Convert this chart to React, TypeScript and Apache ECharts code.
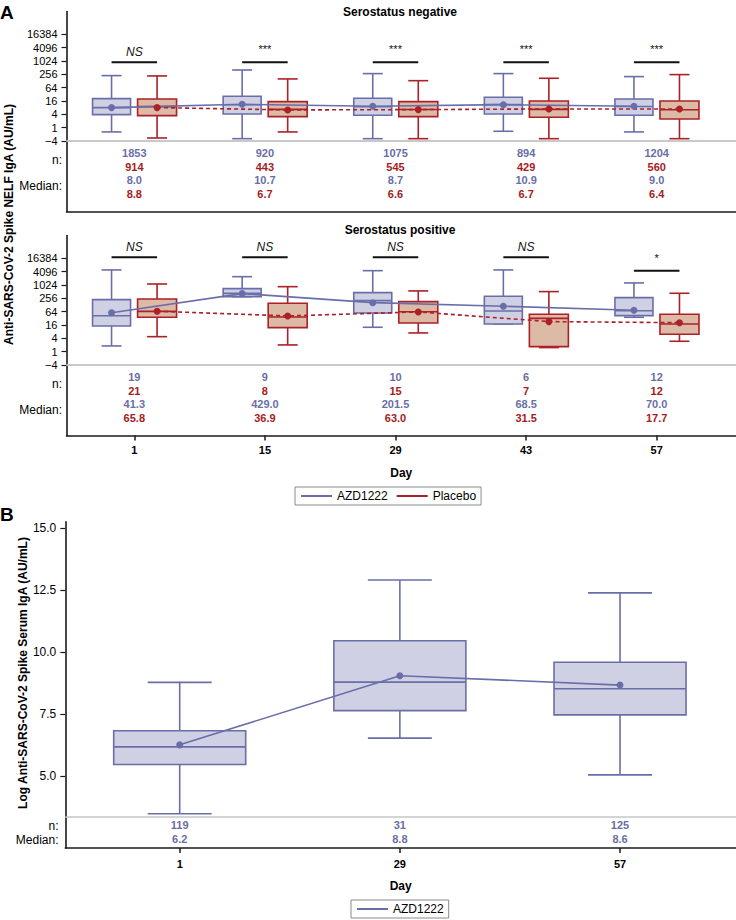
import React, { useEffect, useRef } from 'react';
import * as echarts from 'echarts';

const FONT = '"Liberation Sans", Arial, sans-serif';

const days = [1, 15, 29, 43, 57];
const daysB = [1, 29, 57];

// y axis of panel A in log2 units
const yTickVals = [-2, 0, 2, 4, 6, 8, 10, 12, 14];
const yTickLabels = ['\u22124', '1', '4', '16', '64', '256', '1024', '4096', '16384'];
const yTickValsB = [5, 7.5, 10, 12.5, 15];

// Serostatus negative (log2 AU/mL)
const negAzdLow = [-0.65, -1.66, -1.66, -0.55, -0.65];
const negAzdQ1 = [1.94, 2.05, 1.85, 2.05, 1.85];
const negAzdMed = [3.0, 3.42, 3.12, 3.45, 3.17];
const negAzdQ3 = [4.34, 4.7, 4.4, 4.55, 4.3];
const negAzdUp = [7.8, 8.64, 8.1, 8.1, 7.65];
const negAzdMean = [3.0, 3.5, 3.2, 3.44, 3.2];

const negPboLow = [-1.56, -0.65, -1.66, -1.66, -1.66];
const negPboQ1 = [1.79, 1.64, 1.64, 1.55, 1.3];
const negPboMed = [3.14, 2.74, 2.72, 2.74, 2.68];
const negPboQ3 = [4.3, 3.89, 3.89, 4.0, 4.0];
const negPboUp = [7.75, 7.3, 7.04, 7.4, 7.95];
const negPboMean = [3.0, 2.65, 2.7, 2.8, 2.8];

// Serostatus positive (log2 AU/mL)
const posAzdLow = [0.85, 8.24, 3.65, 4.15, 5.15];
const posAzdQ1 = [3.85, 8.24, 5.8, 4.15, 5.4];
const posAzdMed = [5.37, 8.74, 7.65, 6.1, 6.13];
const posAzdQ3 = [7.79, 9.44, 8.84, 8.3, 8.1];
const posAzdUp = [12.25, 11.24, 12.14, 12.25, 10.3];
const posAzdMean = [5.84, 8.7, 7.34, 6.8, 6.2];

const posPboLow = [2.24, 1.0, 2.8, 0.6, 1.55];
const posPboQ1 = [5.15, 3.59, 4.3, 0.74, 2.6];
const posPboMed = [6.04, 5.2, 5.98, 4.98, 4.15];
const posPboQ3 = [7.9, 7.25, 7.5, 5.6, 5.6];
const posPboUp = [10.14, 9.74, 9.1, 9.0, 8.75];
const posPboMean = [6.05, 5.35, 5.95, 4.5, 4.34];

// Panel B (log AU/mL)
const bLow = [3.49, 6.54, 5.06];
const bQ1 = [5.48, 7.65, 7.48];
const bMed = [6.19, 8.8, 8.53];
const bQ3 = [6.84, 10.47, 9.6];
const bUp = [8.79, 12.92, 12.4];
const bMean = [6.27, 9.06, 8.68];

// tables
const negNAzd = ['1853', '920', '1075', '894', '1204'];
const negNPbo = ['914', '443', '545', '429', '560'];
const negMedAzd = ['8.0', '10.7', '8.7', '10.9', '9.0'];
const negMedPbo = ['8.8', '6.7', '6.6', '6.7', '6.4'];
const posNAzd = ['19', '9', '10', '6', '12'];
const posNPbo = ['21', '8', '15', '7', '12'];
const posMedAzd = ['41.3', '429.0', '201.5', '68.5', '70.0'];
const posMedPbo = ['65.8', '36.9', '63.0', '31.5', '17.7'];
const bN = ['119', '31', '125'];
const bMedTxt = ['6.2', '8.8', '8.6'];

// significance
const negSig = ['NS', '***', '***', '***', '***'];
const negSigY = [9.8, 9.8, 9.8, 9.8, 9.8];
const posSig = ['NS', 'NS', 'NS', 'NS', '*'];
const posSigY = [14.15, 14.15, 14.15, 14.15, 12.14];

const AZD_STROKE = '#6a6ea8';
const AZD_FILL = '#cfd0e4';
const PBO_STROKE = '#ac2028';
const PBO_FILL = '#dcbaa6';
const AZD_TEXT = '#6a6ea6';
const PBO_TEXT = '#a51b22';
const AXIS = '#1a1a1a';
const OFF = 2.44;

function txtStyle(text: string, fill: string, size: number, weight = 'normal', align = 'center', style = 'normal') {
  return {
    text,
    fill,
    font: `${style} ${weight} ${size}px ${FONT}`,
    fontSize: size,
    fontWeight: weight,
    fontStyle: style,
    fontFamily: FONT,
    textAlign: align,
    align,
    textVerticalAlign: 'middle',
    verticalAlign: 'middle',
  };
}

function boxSeries(gi: number, xs: number[], low: number[], q1: number[], med: number[], q3: number[], up: number[], offset: number, stroke: string, fill: string, halfW: number, capHalf: number) {
  return {
    type: 'custom',
    xAxisIndex: gi,
    yAxisIndex: gi,
    silent: true,
    z: 2,
    data: xs.map((d, i) => [d, low[i], q1[i], med[i], q3[i], up[i]]),
    encode: { x: 0, y: [1, 5] },
    renderItem: (params: any, api: any) => {
      const x = api.value(0) + offset;
      const pLow = api.coord([x, api.value(1)]);
      const pQ1 = api.coord([x, api.value(2)]);
      const pMed = api.coord([x, api.value(3)]);
      const pQ3 = api.coord([x, api.value(4)]);
      const pUp = api.coord([x, api.value(5)]);
      const cx = pMed[0];
      const ls = { stroke, lineWidth: 1.6, fill: null };
      return {
        type: 'group',
        children: [
          { type: 'line', shape: { x1: cx, y1: pQ3[1], x2: cx, y2: pUp[1] }, style: ls },
          { type: 'line', shape: { x1: cx, y1: pQ1[1], x2: cx, y2: pLow[1] }, style: ls },
          { type: 'line', shape: { x1: cx - capHalf, y1: pUp[1], x2: cx + capHalf, y2: pUp[1] }, style: ls },
          { type: 'line', shape: { x1: cx - capHalf, y1: pLow[1], x2: cx + capHalf, y2: pLow[1] }, style: ls },
          { type: 'rect', shape: { x: cx - halfW, y: pQ3[1], width: 2 * halfW, height: pQ1[1] - pQ3[1] }, style: { fill, stroke, lineWidth: 1.6 } },
          { type: 'line', shape: { x1: cx - halfW, y1: pMed[1], x2: cx + halfW, y2: pMed[1] }, style: ls },
        ],
      };
    },
  };
}

function meanSeries(gi: number, name: string, xs: number[], means: number[], offset: number, color: string, dashed: boolean, grayY: number) {
  return {
    type: 'line',
    name,
    xAxisIndex: gi,
    yAxisIndex: gi,
    z: 4,
    silent: true,
    symbol: 'circle',
    symbolSize: 7,
    data: xs.map((d, i) => [d + offset, means[i]]),
    lineStyle: { color, width: 1.6, type: dashed ? [4, 3] : 'solid' },
    itemStyle: { color },
    emphasis: { disabled: true },
    markLine: {
      silent: true,
      symbol: ['none', 'none'],
      label: { show: false },
      lineStyle: { color: '#c6c6c6', width: 1.5, type: 'solid' },
      data: [{ yAxis: grayY }],
      z: 1,
    },
  };
}

function tableSeries(gi: number, xs: number[], baseV: number, rows: { texts: string[]; color: string; dy: number }[]) {
  return {
    type: 'custom',
    xAxisIndex: gi,
    yAxisIndex: gi,
    silent: true,
    z: 5,
    data: xs.map((d) => [d, baseV]),
    renderItem: (params: any, api: any) => {
      const i = params.dataIndex;
      const p = api.coord([api.value(0), baseV]);
      return {
        type: 'group',
        children: rows.map((r) => ({
          type: 'text',
          x: p[0],
          y: p[1] + r.dy,
          style: txtStyle(r.texts[i], r.color, 11, 'bold'),
        })),
      };
    },
  };
}

function sigSeries(gi: number, labels: string[], ys: number[]) {
  return {
    type: 'custom',
    xAxisIndex: gi,
    yAxisIndex: gi,
    silent: true,
    z: 5,
    data: days.map((d, i) => [d, ys[i]]),
    renderItem: (params: any, api: any) => {
      const i = params.dataIndex;
      const pL = api.coord([api.value(0) - OFF, api.value(1)]);
      const pR = api.coord([api.value(0) + OFF, api.value(1)]);
      const lab = labels[i];
      const isNS = lab === 'NS';
      return {
        type: 'group',
        children: [
          { type: 'line', shape: { x1: pL[0], y1: pL[1], x2: pR[0], y2: pR[1] }, style: { stroke: '#111', lineWidth: 2 } },
          {
            type: 'text',
            x: (pL[0] + pR[0]) / 2,
            y: pL[1] - (isNS ? 10.5 : 13),
            style: txtStyle(lab, '#111', isNS ? 12 : 11, 'normal', 'center', isNS ? 'italic' : 'normal'),
          },
        ],
      };
    },
  };
}

const rowDy = [12.5, 25.8, 39.2, 52.6];

function xAxisA(gi: number, show: boolean) {
  return {
    type: 'value',
    gridIndex: gi,
    min: -6.27,
    max: 65.5,
    axisLine: { show: true, onZero: false, lineStyle: { color: AXIS, width: 1.6 } },
    axisTick: { show, length: 5, customValues: days, lineStyle: { color: AXIS, width: 1.5 } },
    axisLabel: { show, customValues: days, margin: 9, fontFamily: FONT, fontSize: 11, fontWeight: 'bold', color: '#000' },
    splitLine: { show: false },
    name: show ? 'Day' : '',
    nameLocation: 'middle',
    nameGap: 31,
    nameTextStyle: { fontFamily: FONT, fontSize: 12, fontWeight: 'bold', color: '#000' },
  };
}

function yAxisA(gi: number) {
  return {
    type: 'value',
    gridIndex: gi,
    min: -12.6,
    max: 17.4,
    axisLine: { show: true, onZero: false, lineStyle: { color: AXIS, width: 1.6 } },
    axisTick: { show: true, length: 5, customValues: yTickVals, lineStyle: { color: AXIS, width: 1.2 } },
    axisLabel: {
      customValues: yTickVals,
      margin: 9,
      fontFamily: FONT,
      fontSize: 11,
      color: '#000',
      formatter: (v: number) => {
        const k = yTickVals.indexOf(v);
        return k >= 0 ? yTickLabels[k] : '';
      },
    },
    splitLine: { show: false },
  };
}

function buildOption() {
  return {
    animation: false,
    backgroundColor: '#fff',
    grid: [
      { left: 66.5, right: 0, top: 11.6, height: 200 },
      { left: 66.5, right: 0, top: 235.6, height: 200 },
      { left: 65.3, right: 0, top: 521.7, height: 326.3 },
    ],
    xAxis: [
      xAxisA(0, false),
      xAxisA(1, true),
      {
        type: 'value',
        gridIndex: 2,
        min: -13.55,
        max: 71.75,
        axisLine: { show: true, onZero: false, lineStyle: { color: AXIS, width: 1.6 } },
        axisTick: { show: true, length: 5, customValues: daysB, lineStyle: { color: AXIS, width: 1.5 } },
        axisLabel: { customValues: daysB, margin: 10, fontFamily: FONT, fontSize: 11, fontWeight: 'bold', color: '#000' },
        splitLine: { show: false },
        name: 'Day',
        nameLocation: 'middle',
        nameGap: 32,
        nameTextStyle: { fontFamily: FONT, fontSize: 12, fontWeight: 'bold', color: '#000' },
      },
    ],
    yAxis: [
      yAxisA(0),
      yAxisA(1),
      {
        type: 'value',
        gridIndex: 2,
        min: 2.11,
        max: 15.27,
        axisLine: { show: true, onZero: false, lineStyle: { color: AXIS, width: 1.6 } },
        axisTick: { show: true, length: 5, customValues: yTickValsB, lineStyle: { color: AXIS, width: 1.2 } },
        axisLabel: {
          customValues: yTickValsB,
          margin: 9,
          fontFamily: FONT,
          fontSize: 12,
          color: '#000',
          formatter: (v: number) => v.toFixed(1),
        },
        splitLine: { show: false },
      },
    ],
    legend: [
      {
        data: ['AZD1222', 'Placebo'],
        left: 295,
        top: 487,
        orient: 'horizontal',
        icon: 'rect',
        itemWidth: 31,
        itemHeight: 2,
        itemGap: 9,
        selectedMode: false,
        borderColor: '#8a8a8a',
        borderWidth: 1,
        borderRadius: 0,
        padding: [3, 5, 3, 6],
        textStyle: { fontFamily: FONT, fontSize: 12, color: '#000' },
      },
      {
        data: ['AZD1222'],
        left: 351,
        top: 900,
        icon: 'rect',
        itemWidth: 31,
        itemHeight: 2,
        selectedMode: false,
        borderColor: '#8a8a8a',
        borderWidth: 1,
        borderRadius: 0,
        padding: [3, 5, 3, 6],
        textStyle: { fontFamily: FONT, fontSize: 12, color: '#000' },
      },
    ],
    series: [
      boxSeries(0, days, negAzdLow, negAzdQ1, negAzdMed, negAzdQ3, negAzdUp, -OFF, AZD_STROKE, AZD_FILL, 19, 10),
      boxSeries(0, days, negPboLow, negPboQ1, negPboMed, negPboQ3, negPboUp, OFF, PBO_STROKE, PBO_FILL, 19.5, 10),
      boxSeries(1, days, posAzdLow, posAzdQ1, posAzdMed, posAzdQ3, posAzdUp, -OFF, AZD_STROKE, AZD_FILL, 19, 10),
      boxSeries(1, days, posPboLow, posPboQ1, posPboMed, posPboQ3, posPboUp, OFF, PBO_STROKE, PBO_FILL, 19.5, 10),
      boxSeries(2, daysB, bLow, bQ1, bMed, bQ3, bUp, 0, AZD_STROKE, AZD_FILL, 66, 32),
      meanSeries(0, 'Placebo', days, negPboMean, OFF, PBO_STROKE, true, -2),
      meanSeries(0, 'AZD1222', days, negAzdMean, -OFF, AZD_STROKE, false, -2),
      meanSeries(1, 'Placebo', days, posPboMean, OFF, PBO_STROKE, true, -2),
      meanSeries(1, 'AZD1222', days, posAzdMean, -OFF, AZD_STROKE, false, -2),
      meanSeries(2, 'AZD1222', daysB, bMean, 0, AZD_STROKE, false, 3.37),
      tableSeries(0, days, -2, [
        { texts: negNAzd, color: AZD_TEXT, dy: rowDy[0] },
        { texts: negNPbo, color: PBO_TEXT, dy: rowDy[1] },
        { texts: negMedAzd, color: AZD_TEXT, dy: rowDy[2] },
        { texts: negMedPbo, color: PBO_TEXT, dy: rowDy[3] },
      ]),
      tableSeries(1, days, -2, [
        { texts: posNAzd, color: AZD_TEXT, dy: rowDy[0] },
        { texts: posNPbo, color: PBO_TEXT, dy: rowDy[1] },
        { texts: posMedAzd, color: AZD_TEXT, dy: rowDy[2] },
        { texts: posMedPbo, color: PBO_TEXT, dy: rowDy[3] },
      ]),
      tableSeries(2, daysB, 3.37, [
        { texts: bN, color: AZD_TEXT, dy: 8.4 },
        { texts: bMedTxt, color: AZD_TEXT, dy: 22.4 },
      ]),
      sigSeries(0, negSig, negSigY),
      sigSeries(1, posSig, posSigY),
    ],
    graphic: [
      { type: 'text', x: 0, y: 12, style: { ...txtStyle('A', '#000', 19, 'bold', 'left') } },
      { type: 'text', x: 0, y: 514, style: { ...txtStyle('B', '#000', 19, 'bold', 'left') } },
      { type: 'text', x: 400, y: 12, style: txtStyle('Serostatus negative', '#000', 12, 'bold') },
      { type: 'text', x: 400, y: 230, style: txtStyle('Serostatus positive', '#000', 12, 'bold') },
      { type: 'text', x: 62, y: 159.5, style: txtStyle('n:', '#000', 12, 'normal', 'right') },
      { type: 'text', x: 62, y: 185.5, style: txtStyle('Median:', '#000', 12, 'normal', 'right') },
      { type: 'text', x: 62, y: 383.5, style: txtStyle('n:', '#000', 12, 'normal', 'right') },
      { type: 'text', x: 62, y: 410, style: txtStyle('Median:', '#000', 12, 'normal', 'right') },
      { type: 'text', x: 58.5, y: 825.5, style: txtStyle('n:', '#000', 12, 'normal', 'right') },
      { type: 'text', x: 58.5, y: 839.5, style: txtStyle('Median:', '#000', 12, 'normal', 'right') },
      {
        type: 'text',
        x: 9,
        y: 224.5,
        rotation: Math.PI / 2,
        style: txtStyle('Anti-SARS-CoV-2 Spike NELF IgA (AU/mL)', '#000', 12, 'bold'),
      },
      {
        type: 'text',
        x: 23,
        y: 673,
        rotation: Math.PI / 2,
        style: txtStyle('Log Anti-SARS-CoV-2 Spike Serum IgA (AU/mL)', '#000', 12, 'bold'),
      },
    ],
  };
}

export default function App() {
  const ref = useRef<HTMLDivElement>(null);
  useEffect(() => {
    if (!ref.current) return;
    const chart = echarts.init(ref.current, null, { renderer: 'svg' });
    chart.setOption(buildOption() as any);
    return () => chart.dispose();
  }, []);
  return (
    <div
      ref={ref}
      style={{ position: 'fixed', left: 0, top: 0, width: 736, height: 920, background: '#fff' }}
    />
  );
}
